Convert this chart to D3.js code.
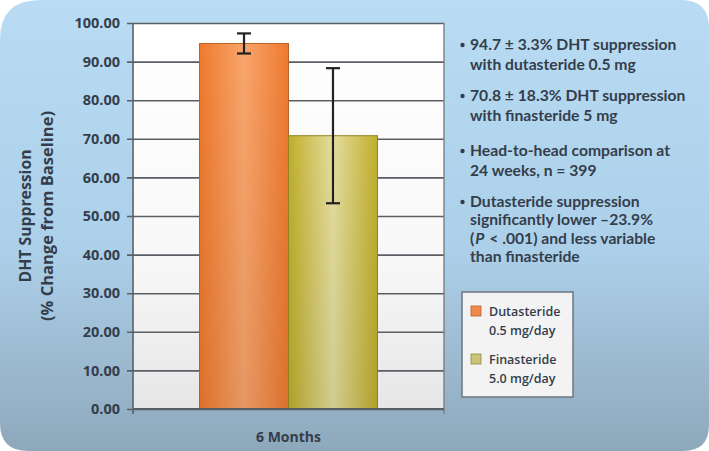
<!DOCTYPE html>
<html><head><meta charset="utf-8">
<script src="https://cdn.jsdelivr.net/npm/d3@7"></script>
<style>html,body{margin:0;padding:0;background:#fff;}svg{display:block;}</style>
</head><body>
<svg id="c" width="709" height="451"></svg>
<script>
const categories = ["6 Months"];
const seriesNames = ["Dutasteride", "Finasteride"];
const seriesSub = ["0.5 mg/day", "5.0 mg/day"];
const values = [94.7, 70.8];
const errors = [2.6, 17.5];
const yTicks = [0, 10, 20, 30, 40, 50, 60, 70, 80, 90, 100];
const bullets = [
  ["94.7 \u00b1 3.3% DHT suppression", "with dutasteride 0.5 mg"],
  ["70.8 \u00b1 18.3% DHT suppression", "with finasteride 5 mg"],
  ["Head-to-head comparison at", "24 weeks, n = 399"],
  ["Dutasteride suppression", "significantly lower \u201323.9%", "(P < .001) and less variable", "than finasteride"]
];

const svg = d3.select("#c");
const W = 709, H = 451;
const textCol = "#343e4b";
const font = "'Open Sans', sans-serif";
const bfont = "Lato, 'Open Sans', sans-serif";

const defs = svg.append("defs");
const bg = defs.append("linearGradient").attr("id","bg").attr("x1",0).attr("y1",0).attr("x2",0).attr("y2",1);
bg.append("stop").attr("offset","0%").attr("stop-color","#b9dcf4");
bg.append("stop").attr("offset","55%").attr("stop-color","#add0ea");
bg.append("stop").attr("offset","100%").attr("stop-color","#8ea8bb");
const pg = defs.append("linearGradient").attr("id","pg").attr("x1",0).attr("y1",0).attr("x2",0).attr("y2",1);
pg.append("stop").attr("offset","0%").attr("stop-color","#ffffff");
pg.append("stop").attr("offset","60%").attr("stop-color","#f8f8f8");
pg.append("stop").attr("offset","100%").attr("stop-color","#e6e6e6");
const barGrads = [
  ["#ef7a2e","#f9a56c","#ee7a30"],
  ["#bfae2a","#e4dd9e","#c0ae2c"]
];
barGrads.forEach((g,i)=>{
  const lg = defs.append("linearGradient").attr("id","bar"+i).attr("x1",0).attr("y1",0).attr("x2",1).attr("y2",0);
  lg.append("stop").attr("offset","0%").attr("stop-color",g[0]);
  lg.append("stop").attr("offset","50%").attr("stop-color",g[1]);
  lg.append("stop").attr("offset","100%").attr("stop-color",g[2]);
});
const shade = defs.append("linearGradient").attr("id","shade").attr("x1",0).attr("y1",0).attr("x2",0).attr("y2",1);
shade.append("stop").attr("offset","0%").attr("stop-color","#000").attr("stop-opacity",0);
shade.append("stop").attr("offset","100%").attr("stop-color","#000").attr("stop-opacity",0.08);

// background panel with rounded corners
const rTL=40, rTR=28, rBR=26, rBL=28;
svg.append("path")
  .attr("d",`M${rTL},0 H${W-rTR} Q${W},0 ${W},${rTR} V${H-rBR} Q${W},${H} ${W-rBR},${H} H${rBL} Q0,${H} 0,${H-rBL} V${rTL} Q0,0 ${rTL},0 Z`)
  .attr("fill","url(#bg)");

const m = {left:133, right:444, top:23, bottom:409};
const y = d3.scaleLinear().domain([0,100]).range([m.bottom, m.top]);
const x0 = d3.scaleBand().domain(categories).range([m.left, m.right]).paddingInner(0).paddingOuter(0.374);
const x1 = d3.scaleBand().domain(seriesNames).range([0, x0.bandwidth()]).padding(0);

// plot area
svg.append("rect").attr("x",m.left).attr("y",m.top).attr("width",m.right-m.left).attr("height",m.bottom-m.top)
  .attr("fill","url(#pg)");

// gridlines + ticks
const yAxis = d3.axisLeft(y).tickValues(yTicks).tickFormat(d3.format(".2f")).tickSize(-(m.right-m.left)).tickPadding(13);
const ga = svg.append("g").attr("transform",`translate(${m.left},0)`).call(yAxis);
ga.select(".domain").remove();
ga.selectAll(".tick line").attr("x1",-6).attr("stroke","#5a5f66").attr("stroke-width",1.6);
ga.selectAll(".tick text").attr("fill",textCol).style("font-family",font).style("font-size","14.5px").style("font-weight",700);

// left axis line, right border
svg.append("line").attr("x1",m.left).attr("x2",m.left).attr("y1",m.top).attr("y2",m.bottom+5).attr("stroke","#5a5f66").attr("stroke-width",1.6);
svg.append("line").attr("x1",m.right).attr("x2",m.right).attr("y1",m.top).attr("y2",m.bottom+5).attr("stroke","#7a7f86").attr("stroke-width",1.4);

// bars
const gBars = svg.append("g");
categories.forEach(cat=>{
  seriesNames.forEach((s,i)=>{
    const bx = x0(cat)+x1(s), bw = x1.bandwidth();
    gBars.append("rect").attr("x",bx).attr("y",y(values[i])).attr("width",bw).attr("height",y(0)-y(values[i]))
      .attr("fill","url(#bar"+i+")").attr("stroke", i===0?"#b8612a":"#8f8422").attr("stroke-width",1);
    gBars.append("rect").attr("x",bx).attr("y",y(values[i])).attr("width",bw).attr("height",y(0)-y(values[i]))
      .attr("fill","url(#shade)");
  });
});
// bottom axis line
svg.append("line").attr("x1",m.left).attr("x2",m.right).attr("y1",m.bottom).attr("y2",m.bottom).attr("stroke","#5a5f66").attr("stroke-width",1.8);

// error bars
categories.forEach(cat=>{
  seriesNames.forEach((s,i)=>{
    const cx = x0(cat)+x1(s)+x1.bandwidth()/2;
    const yt = y(values[i]+errors[i]), yb = y(values[i]-errors[i]);
    const g = svg.append("g").attr("stroke","#222").attr("stroke-width",2.2);
    g.append("line").attr("x1",cx).attr("x2",cx).attr("y1",yt).attr("y2",yb);
    g.append("line").attr("x1",cx-7).attr("x2",cx+7).attr("y1",yt).attr("y2",yt);
    g.append("line").attr("x1",cx-7).attr("x2",cx+7).attr("y1",yb).attr("y2",yb);
  });
});

// x label
categories.forEach(cat=>{
  svg.append("text").attr("x",x0(cat)+x0.bandwidth()/2).attr("y",442).attr("text-anchor","middle")
    .attr("fill",textCol).style("font-family",font).style("font-size","14px").style("font-weight",700).text(cat);
});

// y title
const yt = svg.append("text").attr("transform","translate(0,216) rotate(-90)").attr("text-anchor","middle")
  .attr("fill",textCol).style("font-family",font).style("font-size","15.5px").style("font-weight",700);
yt.append("tspan").attr("x",0).attr("y",31).attr("textLength",133).attr("lengthAdjust","spacingAndGlyphs").text("DHT Suppression");
yt.append("tspan").attr("x",0).attr("y",53).attr("textLength",210).attr("lengthAdjust","spacingAndGlyphs").text("(% Change from Baseline)");

// bullets
const lineYs = [[50,70],[101,121],[156,176],[207,225,244,262]];
bullets.forEach((b,bi)=>{
  b.forEach((ln,li)=>{
    const t = svg.append("text").attr("x",470).attr("y",lineYs[bi][li]).attr("fill",textCol)
      .style("font-family",bfont).style("font-size","15.7px").style("font-weight",700);
    if(li===0) svg.append("circle").attr("cx",462.5).attr("cy",lineYs[bi][li]-5).attr("r",2.2).attr("fill",textCol);
    if(ln.startsWith("(P")){
      t.append("tspan").text("(");
      t.append("tspan").attr("dx",1).style("font-style","italic").text("P");
      t.append("tspan").attr("dx",1).text(ln.slice(2));
    } else t.text(ln);
  });
});

// legend
const lg = svg.append("g");
lg.append("rect").attr("x",462).attr("y",292).attr("width",111).attr("height",105)
  .attr("fill","#f3f3f3").attr("stroke","#6f767e").attr("stroke-width",1.5);
const swCol = ["#f08a4c","#c9c477"];
const swStroke = ["#b8612a","#8f8a45"];
seriesNames.forEach((s,i)=>{
  const yy = 306 + i*48;
  lg.append("rect").attr("x",471).attr("y",yy).attr("width",10).attr("height",10).attr("fill",swCol[i]).attr("stroke",swStroke[i]).attr("stroke-width",0.8);
  lg.append("text").attr("x",489).attr("y",yy+10).attr("fill",textCol).style("font-family",font).style("font-size","12.5px").style("font-weight",600).text(s);
  lg.append("text").attr("x",489).attr("y",yy+29).attr("fill",textCol).style("font-family",font).style("font-size","12.5px").style("font-weight",600).text(seriesSub[i]);
});
</script>
</body></html>
